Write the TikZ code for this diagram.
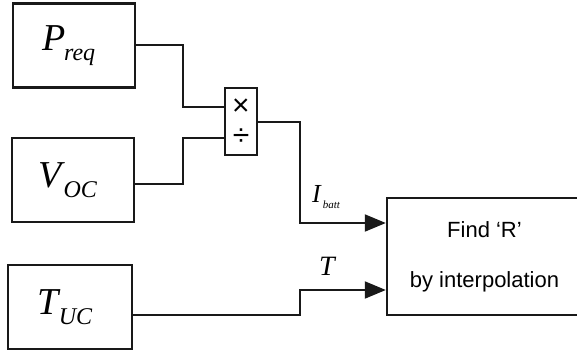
\documentclass[tikz,border=0pt]{standalone}
\usepackage{fontspec}
\setmainfont{Liberation Serif}
\newfontfamily\arialfont{Liberation Sans}
\usetikzlibrary{arrows.meta, positioning}
\definecolor{inkgray}{RGB}{25,25,25}

\newcommand{\sublbl}[2]{\textit{#1}\kern-2pt\raisebox{-10pt}{\fontsize{24}{24}\selectfont\textit{#2}}\kern10pt}

\begin{document}
\begin{tikzpicture}[
  x=1pt, y=-1pt,
  block/.style={rectangle, draw=inkgray, line width=2.4pt, fill=white,
                minimum width=122pt, minimum height=84pt, inner sep=0pt,
                font=\fontsize{38}{38}\selectfont},
  prodbox/.style={rectangle, draw=inkgray, line width=2.2pt, fill=white,
                  minimum width=32pt, minimum height=67pt, inner sep=0pt},
  opsym/.style={inner sep=0pt, font=\arialfont\fontsize{30}{30}\selectfont},
  interpbox/.style={rectangle, draw=inkgray, line width=2.4pt, fill=white,
                    minimum width=195pt, minimum height=117pt, inner sep=0pt,
                    align=center, font=\arialfont\fontsize{22}{47}\selectfont},
  wire/.style={draw=inkgray, line width=2pt},
  arrow/.style={wire, -{Triangle[length=21pt, width=17pt]}}
]
\useasboundingbox (0,0) rectangle (577,353);
\clip (0,0) rectangle (577,353);

% source blocks
\node[block] (preq) at (74,45.5) {\sublbl{P}{req}};
\node[block] (voc) at (73,180) {\sublbl{V}{OC}};
\node[block, minimum width=124pt] (tuc) at (70,307) {\sublbl{T}{UC}};

% product / divide block
\node[prodbox] (prod) at (241,121.5) {};
\node[opsym] (mulsym) at (241,107) {×};
\node[opsym] (divsym) at (241,137) {÷};
\coordinate (inmul) at ([yshift=14.5pt]prod.west);
\coordinate (indiv) at ([yshift=-16.5pt]prod.west);

% lookup block
\node[interpbox] (interp) at (484.5,256.5) {\raisebox{3pt}{Find ‘R’}\\by interpolation};
\coordinate (inI) at ([yshift=33.5pt]interp.west);
\coordinate (inT) at ([yshift=-33.5pt]interp.west);

% wiring
\draw[wire] (preq.east) -- ++(47,0) |- (inmul);
\draw[wire] ([yshift=-4pt]voc.east) -- ++(48,0) |- (indiv);
\draw[arrow] (prod.east) -- ++(42,0) |- (inI);
\draw[arrow] ([yshift=-8pt]tuc.east) -- ++(167,0) |- (inT);

% signal labels
\node[anchor=base west, inner sep=0pt, font=\fontsize{26}{26}\selectfont]
  (ibatt) at (312,202) {\textit{I}\kern1pt\raisebox{-6pt}{\fontsize{11}{11}\selectfont\textit{batt}}};
\node[anchor=base west, inner sep=0pt, font=\fontsize{28}{28}\selectfont]
  (tlbl) at (319,275) {\textit{T}};

\end{tikzpicture}
\end{document}
